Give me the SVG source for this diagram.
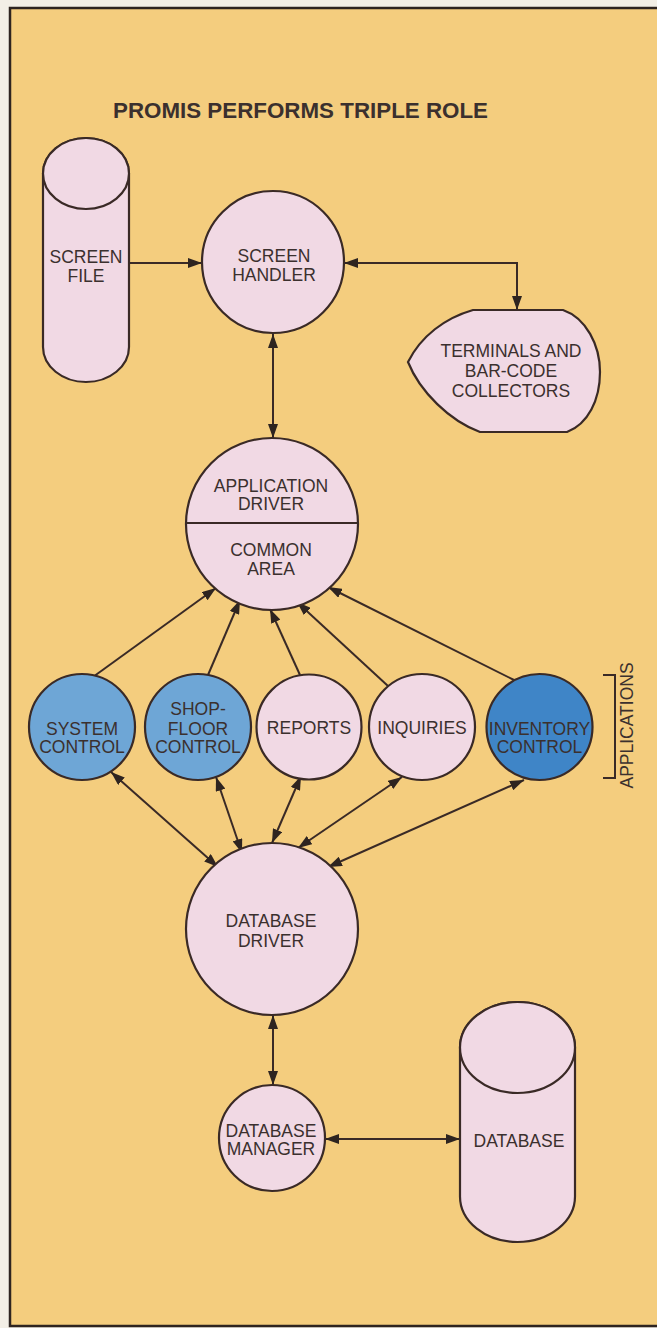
<svg xmlns="http://www.w3.org/2000/svg" width="657" height="1328" viewBox="0 0 657 1328">
<style>
.bg{fill:#f4cd7e;stroke:#2e2420;stroke-width:2.5}
.nd{fill:#f1d9e4;stroke:#3a2a26;stroke-width:2.2}
.bl{fill:#6ea6d6;stroke:#3a2a26;stroke-width:2.2}
.bd{fill:#3f85c7;stroke:#3a2a26;stroke-width:2.2}
.ln{fill:none;stroke:#3a2a26;stroke-width:2}
.t{font-family:"Liberation Sans",Arial,sans-serif;font-size:17.5px;fill:#3b302e;text-anchor:middle}
.ti{font-family:"Liberation Sans",Arial,sans-serif;font-size:21.5px;font-weight:bold;fill:#3b302e;text-anchor:middle}
</style>
<defs>
<marker id="ah" viewBox="0 0 14 10" refX="14" refY="5" markerWidth="14" markerHeight="10" markerUnits="userSpaceOnUse" orient="auto-start-reverse">
<path d="M0,0 L14,5 L0,10 z" fill="#2e2420"/>
</marker>
</defs>
<rect x="0" y="0" width="657" height="1328" fill="#f3efe6"/>
<rect class="bg" x="10" y="8" width="665" height="1318"/>
<text class="ti" x="300.5" y="118" textLength="375" lengthAdjust="spacingAndGlyphs">PROMIS PERFORMS TRIPLE ROLE</text>

<g id="connectors" class="ln">
<line x1="129" y1="263" x2="202" y2="263" marker-end="url(#ah)"/>
<polyline points="344,263 517,263 517,310" marker-start="url(#ah)" marker-end="url(#ah)"/>
<line x1="273" y1="334" x2="273" y2="438" marker-start="url(#ah)" marker-end="url(#ah)"/>
<line x1="95" y1="675.5" x2="216" y2="588" marker-end="url(#ah)"/>
<line x1="208" y1="675" x2="240" y2="600" marker-end="url(#ah)"/>
<line x1="300" y1="675" x2="270" y2="609" marker-end="url(#ah)"/>
<line x1="388" y1="686" x2="297" y2="602" marker-end="url(#ah)"/>
<line x1="514" y1="680" x2="328" y2="587" marker-end="url(#ah)"/>
<line x1="111" y1="772" x2="218" y2="867" marker-start="url(#ah)" marker-end="url(#ah)"/>
<line x1="216" y1="777" x2="242" y2="853" marker-start="url(#ah)" marker-end="url(#ah)"/>
<line x1="301" y1="776" x2="272" y2="843" marker-start="url(#ah)" marker-end="url(#ah)"/>
<line x1="402" y1="777" x2="298" y2="848" marker-start="url(#ah)" marker-end="url(#ah)"/>
<line x1="524" y1="780" x2="328" y2="867" marker-start="url(#ah)" marker-end="url(#ah)"/>
<line x1="273" y1="1015" x2="273" y2="1085" marker-start="url(#ah)" marker-end="url(#ah)"/>
<line x1="325" y1="1139" x2="460" y2="1139" marker-start="url(#ah)" marker-end="url(#ah)"/>
</g>

<g id="screen-file">
<path class="nd" d="M43,173.5 V347 A43,35 0 0 0 129,347 V173.5 A43,35.5 0 0 0 43,173.5 Z"/>
<ellipse class="nd" cx="86" cy="173.5" rx="43" ry="35.5"/>
<text class="t" x="86" y="263">SCREEN</text>
<text class="t" x="86" y="282">FILE</text>
</g>

<g id="screen-handler">
<circle class="nd" cx="273" cy="262" r="71"/>
<text class="t" x="274" y="262">SCREEN</text>
<text class="t" x="274" y="281">HANDLER</text>
</g>

<g id="terminals">
<path class="nd" d="M473,310 H563 C586,318 600,345 600,372 C600,400 588,424 567,432 H480 C450,421 420,392 408,362 C421,336 445,318 473,310 Z"/>
<text class="t" x="511" y="357">TERMINALS AND</text>
<text class="t" x="511" y="377">BAR-CODE</text>
<text class="t" x="511" y="397">COLLECTORS</text>
</g>

<g id="application-driver">
<circle class="nd" cx="272" cy="524" r="86"/>
<line class="ln" x1="186" y1="523" x2="358" y2="523"/>
<text class="t" x="271" y="492">APPLICATION</text>
<text class="t" x="271" y="510">DRIVER</text>
<text class="t" x="271" y="556">COMMON</text>
<text class="t" x="271" y="575">AREA</text>
</g>

<g id="system-control">
<circle class="bl" cx="82" cy="727" r="53"/>
<text class="t" x="82" y="735">SYSTEM</text>
<text class="t" x="82" y="753">CONTROL</text>
</g>

<g id="shop-floor-control">
<circle class="bl" cx="198" cy="727" r="53"/>
<text class="t" x="198" y="715">SHOP-</text>
<text class="t" x="198" y="735">FLOOR</text>
<text class="t" x="198" y="753">CONTROL</text>
</g>

<g id="reports">
<circle class="nd" cx="309" cy="727" r="52.5"/>
<text class="t" x="309" y="734">REPORTS</text>
</g>

<g id="inquiries">
<circle class="nd" cx="422" cy="727" r="53"/>
<text class="t" x="422" y="734">INQUIRIES</text>
</g>

<g id="inventory-control">
<circle class="bd" cx="539.5" cy="727" r="53"/>
<text class="t" x="539.5" y="735">INVENTORY</text>
<text class="t" x="539.5" y="753">CONTROL</text>
</g>

<g id="applications-label">
<polyline class="ln" points="603,675 615,675 615,778 603,778"/>
<text class="t" transform="translate(633,725.5) rotate(-90)" x="0" y="0">APPLICATIONS</text>
</g>

<g id="database-driver">
<circle class="nd" cx="272" cy="929" r="86"/>
<text class="t" x="271" y="927">DATABASE</text>
<text class="t" x="271" y="947">DRIVER</text>
</g>

<g id="database-manager">
<circle class="nd" cx="272" cy="1138" r="53"/>
<text class="t" x="271" y="1137">DATABASE</text>
<text class="t" x="271" y="1155">MANAGER</text>
</g>

<g id="database">
<path class="nd" d="M460,1047.5 V1196.5 A57.5,45.5 0 0 0 575,1196.5 V1047.5 A57.5,45.5 0 0 0 460,1047.5 Z"/>
<ellipse class="nd" cx="517.5" cy="1047.5" rx="57.5" ry="45.5"/>
<text class="t" x="519" y="1147">DATABASE</text>
</g>
</svg>
